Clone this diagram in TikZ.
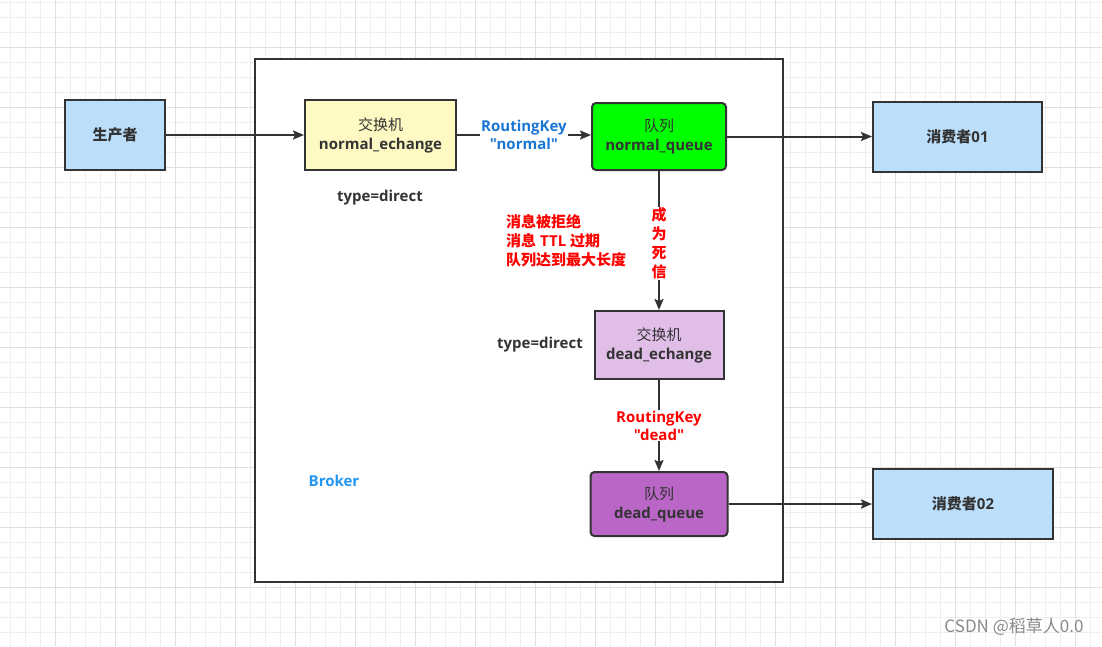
\documentclass[tikz,border=0pt]{standalone}
\usepackage{fontspec}
\setmainfont{Open Sans}[Ligatures=TeXOff]
\newfontfamily\cjk{Noto Sans CJK SC}
\usetikzlibrary{arrows.meta}
\definecolor{ink}{HTML}{333333}
\definecolor{lblue}{HTML}{BBDEFB}
\definecolor{lyellow}{HTML}{FFF9C4}
\definecolor{qgreen}{HTML}{00FF00}
\definecolor{lpurple}{HTML}{E1BEE7}
\definecolor{dpurple}{HTML}{B966C6}
\definecolor{keyblue}{HTML}{1976D2}
\definecolor{brokerblue}{HTML}{2196F3}
\definecolor{gridminor}{HTML}{EEEEEE}
\definecolor{gridmajor}{HTML}{DFDFDF}
\definecolor{wm}{HTML}{8A8A8A}
\begin{document}
\begin{tikzpicture}[x=1pt,y=-1pt,
  box/.style={draw=ink, line width=2pt, text=ink, align=center, inner sep=0pt,
    font=\fontsize{15}{19}\selectfont\bfseries},
  arr/.style={draw=ink, line width=2pt, -{Stealth[length=11pt,width=9pt,inset=2pt]}},
  plain/.style={text=ink, font=\fontsize{15}{19}\selectfont\bfseries, inner sep=1pt},
  redtxt/.style={text=red, font=\fontsize{15}{19}\selectfont\bfseries, align=left, inner sep=0pt},
  keylbl/.style={fill=white, inner sep=1pt, align=center, font=\fontsize{15}{18}\selectfont\bfseries}
]
\useasboundingbox (0,0) rectangle (1102,646);
\fill[white] (0,0) rectangle (1102,646);
% grid
\foreach \x in {10,25,...,1100} \draw[gridminor, line width=1pt] (\x,0) -- (\x,646);
\foreach \y in {2,17,...,646} \draw[gridminor, line width=1pt] (0,\y) -- (1102,\y);
\foreach \x in {55,115,...,1100} \draw[gridmajor, line width=1pt] (\x,0) -- (\x,646);
\foreach \y in {47,107,...,646} \draw[gridmajor, line width=1pt] (0,\y) -- (1102,\y);

% broker frame
\node[draw=ink, line width=2pt, fill=white, minimum width=528, minimum height=523, inner sep=0pt] (broker) at (519,320.5) {};
\node[text=brokerblue, font=\fontsize{15}{18}\selectfont\bfseries] (brokerlbl) at (334,481) {Broker};

% nodes
\node[box, fill=lblue, minimum width=100, minimum height=70] (prod) at (115,135) {{\cjk\bfseries 生产者}};
\node[box, fill=lyellow, minimum width=151, minimum height=70] (nex) at (380.5,135) {{\cjk\mdseries 交换机}\\normal\_echange};
\node[box, fill=qgreen, rounded corners=4pt, minimum width=134, minimum height=67] (nq) at (659,136.5) {{\cjk\mdseries 队列}\\normal\_queue};
\node[box, fill=lblue, minimum width=169, minimum height=70] (c1) at (957.5,137) {{\cjk\bfseries 消费者}01};
\node[box, fill=lpurple, minimum width=129, minimum height=68] (dex) at (659,345) {{\cjk\mdseries 交换机}\\dead\_echange};
\node[box, fill=dpurple, rounded corners=4pt, minimum width=137, minimum height=64] (dq) at (659,504) {{\cjk\mdseries 队列}\\dead\_queue};
\node[box, fill=lblue, minimum width=180, minimum height=70] (c2) at (963,504) {{\cjk\bfseries 消费者}02};

% free labels
\node[plain] (t1) at (380,198) {type=direct};
\node[plain] (t2) at (540,345) {type=direct};
\node[redtxt, anchor=west] (reasons) at (506,241) {{\cjk\bfseries 消息被拒绝}\\{\cjk\bfseries 消息} TTL {\cjk\bfseries 过期}\\{\cjk\bfseries 队列达到最大长度}};

% connectors
\draw[arr] (prod.east) -- (prod.east -| nex.west);
\draw[arr] (nex.east) -- node[keylbl, text=keyblue] {RoutingKey\\"normal"} (nex.east -| nq.west);
\draw[arr] (nq.east) -- (nq.east -| c1.west);
\draw[arr] (nq.south) -- node[fill=white, inner sep=1pt, text=red, align=center, font=\cjk\fontsize{15}{19}\selectfont\bfseries, pos=0.52] {成\\为\\死\\信} (dex.north);
\draw[arr] (dex.south) -- node[keylbl, text=red] {RoutingKey\\"dead"} (dq.north);
\draw[arr] (dq.east) -- (dq.east -| c2.west);

% watermark
\node[text=wm, font=\cjk\fontsize{17}{20}\selectfont, anchor=east] (wmk) at (1087,627) {CSDN @稻草人0.0};
\end{tikzpicture}
\end{document}
